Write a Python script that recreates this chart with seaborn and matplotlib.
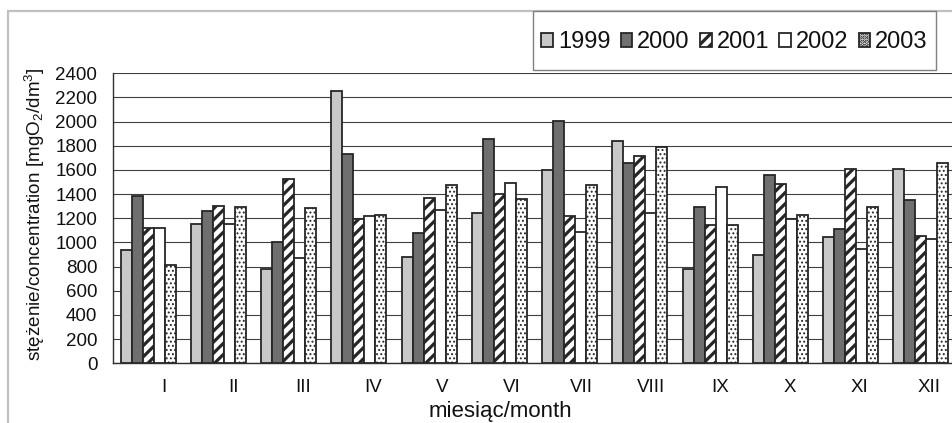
import matplotlib
matplotlib.use("Agg")
import matplotlib.pyplot as plt
from matplotlib.patches import Rectangle
from matplotlib.transforms import ScaledTranslation
import seaborn as sns
import pandas as pd

months = ['I', 'II', 'III', 'IV', 'V', 'VI', 'VII', 'VIII', 'IX', 'X', 'XI', 'XII']
years = ['1999', '2000', '2001', '2002', '2003']
v1999 = [938, 1153, 778, 2251, 877, 1241, 1603, 1840, 778, 899, 1048, 1611]
v2000 = [1385, 1263, 1004, 1732, 1076, 1857, 2008, 1661, 1294, 1559, 1114, 1352]
v2001 = [1117, 1305, 1528, 1192, 1368, 1404, 1219, 1719, 1148, 1484, 1611, 1054]
v2002 = [1123, 1153, 874, 1217, 1269, 1495, 1087, 1247, 1462, 1192, 949, 1032]
v2003 = [814, 1294, 1286, 1225, 1473, 1363, 1476, 1788, 1142, 1228, 1294, 1658]
yticks = list(range(0, 2401, 200))

series = [v1999, v2000, v2001, v2002, v2003]
df = pd.DataFrame([
    {'month': m, 'year': y, 'value': v}
    for y, vals in zip(years, series)
    for m, v in zip(months, vals)
])

sns.set_style('white')
plt.rcParams['font.family'] = ['Liberation Sans', 'DejaVu Sans']
plt.rcParams['mathtext.fontset'] = 'custom'
plt.rcParams['mathtext.rm'] = 'Liberation Sans'
plt.rcParams['mathtext.it'] = 'Liberation Sans:italic'
plt.rcParams['hatch.linewidth'] = 2.3

fig = plt.figure(figsize=(9.53, 4.23), dpi=100)
ax = fig.add_axes([113/953, (423-363.3)/423, 843/953, 290/423])

face = {'1999': '#c8c8c8', '2000': '#6f6f6f', '2001': '#ffffff',
        '2002': '#ffffff', '2003': '#ffffff'}
hatches = ['', '', '///', '', '....']
edge = '#262626'

sns.barplot(data=df, x='month', y='value', hue='year', order=months,
            hue_order=years, palette=face, width=0.78, gap=0,
            saturation=1, edgecolor=edge, linewidth=1.3, legend=False,
            errorbar=None, ax=ax, zorder=3)

for cont, h in zip(ax.containers, hatches):
    for bar in cont:
        bar.set_hatch(h)
        bar.set_edgecolor(edge)
        if h.startswith('.'):
            bar.set_hatch_linewidth(0.9)

ax.set_xlim(-0.5, 11.5)
ax.set_ylim(0, 2400)
ax.set_yticks(yticks)
ax.set_yticklabels([str(t) for t in yticks])
ax.yaxis.grid(True, color='#404040', linewidth=0.8)
ax.xaxis.grid(False)
ax.set_axisbelow(True)

for s in ['top', 'right']:
    ax.spines[s].set_visible(False)
for s in ['left', 'bottom']:
    ax.spines[s].set_color('#303030')
    ax.spines[s].set_linewidth(1.0)

# month labels at category centres, boundary tick marks
ax.set_xticks([i - 0.5 for i in range(len(months) + 1)])
ax.set_xticklabels([''] * (len(months) + 1))
ax.set_xticks(range(len(months)), minor=True)
ax.set_xticklabels(months, minor=True)
ax.tick_params(axis='x', which='major', direction='out', length=3.6,
               width=1.0, color='#303030')
ax.tick_params(axis='x', which='minor', length=0, pad=11, labelsize=13.5,
               labelcolor='#111111')
ax.tick_params(axis='y', direction='out', length=4.3, width=1.0,
               color='#303030', pad=7, labelsize=13.5, labelcolor='#111111')
for i, lab in enumerate(ax.get_xticklabels(minor=True)):
    dx = (16 - 0.7 * i) / 100.0
    lab.set_transform(lab.get_transform() + ScaledTranslation(dx, 0, fig.dpi_scale_trans))

ax.set_xlabel('miesiąc/month', fontsize=16, color='#111111')
ax.xaxis.set_label_coords(0.459, -0.13)
ax.set_ylabel('stężenie/concentration [mgO$_2$/dm$^3$]', fontsize=13.6,
              color='#111111')
ax.yaxis.set_label_coords(-0.078, 0.515)

# legend frame drawn as its own box, entries spread inside it
box_x0, box_y0, box_x1, box_y1 = 533/953, (423-70)/423, 936/953, (423-11)/423
frame = Rectangle((box_x0, box_y0), box_x1 - box_x0, box_y1 - box_y0,
                  transform=fig.transFigure, facecolor='white',
                  edgecolor='#808080', linewidth=1.0, zorder=8, clip_on=False)
ax.add_artist(frame)
leg = ax.legend(handles=ax.containers, labels=years, ncol=5,
                bbox_to_anchor=(box_x0 + 6/953, box_y0 - 2/423, box_x1 - box_x0 - 12/953, box_y1 - box_y0),
                bbox_transform=fig.transFigure, loc='center', mode='expand',
                borderaxespad=0, fontsize=17, handlelength=0.5, handleheight=0.5,
                handletextpad=0.2, columnspacing=0.4, borderpad=0.1,
                frameon=False)
leg.set_zorder(9)
for t in leg.get_texts():
    t.set_color('#111111')

fig.add_artist(Rectangle((8/953, -0.2), 1.2, 1.2 - 11/423, transform=fig.transFigure,
                         fill=False, edgecolor='#c0c0c0', linewidth=1.6,
                         clip_on=False, zorder=0))

fig.savefig('out.png', dpi=100)
